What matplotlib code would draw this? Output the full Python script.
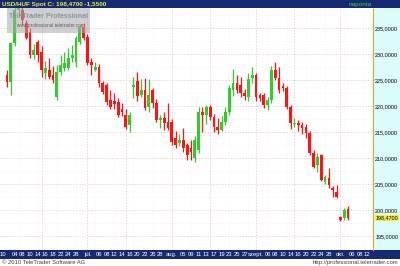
import matplotlib
matplotlib.use('Agg')
import matplotlib.pyplot as plt
import matplotlib.transforms as mtrans
from matplotlib.patches import Rectangle
import numpy as np
import pandas as pd

# ---------------- data ----------------
opens = [226.0, 224.6, 232.1, 238.5, 238.5, 236.0, 234.2, 229.8, 232.3, 230.4,
         226.3, 226.9, 226.0, 221.7, 226.5, 227.3, 227.3, 229.2, 228.5, 232.3,
         235.2, 233.3, 228.5, 226.9, 227.5, 224.4, 224.0, 221.2, 221.0, 220.8,
         219.4, 218.3, 216.3, 223.6, 224.8, 222.1, 223.1, 219.8, 223.1, 220.6,
         217.3, 217.7, 216.9, 216.9, 213.8, 212.9, 213.5, 212.5, 212.0, 210.0,
         211.5, 218.8, 218.3, 219.8, 217.9, 216.0, 215.4, 216.9, 218.8, 223.1,
         224.4, 224.0, 222.5, 221.7, 225.4, 226.0, 222.1, 222.1, 220.2, 221.2,
         226.9, 225.4, 223.9, 223.5, 219.8, 216.5, 216.7, 216.4, 216.0, 214.8,
         211.0, 208.7, 210.6, 205.4, 206.2, 204.2, 203.5, 198.7, 198.5, 200.2]
highs = [226.9, 232.3, 239.5, 240.2, 239.5, 236.5, 235.0, 232.0, 232.6, 231.5,
         228.7, 229.3, 227.7, 227.9, 229.8, 230.4, 231.2, 231.7, 233.5, 235.5,
         236.0, 233.8, 229.2, 228.5, 228.1, 224.8, 224.4, 223.1, 222.5, 221.5,
         220.6, 219.5, 218.8, 225.6, 226.5, 225.2, 225.4, 225.2, 223.5, 221.3,
         218.3, 218.8, 220.6, 217.5, 215.2, 214.6, 215.8, 212.9, 213.5, 214.2,
         219.8, 219.8, 220.2, 220.2, 218.5, 217.7, 218.0, 219.8, 224.0, 227.1,
         226.0, 225.6, 223.3, 226.3, 227.5, 226.3, 222.5, 222.5, 221.7, 227.7,
         228.5, 227.5, 224.4, 223.9, 220.2, 217.7, 217.3, 216.9, 216.5, 215.2,
         211.5, 211.0, 210.8, 206.7, 208.1, 204.6, 204.8, 198.9, 200.4, 200.8]
lows = [223.7, 222.1, 231.5, 237.5, 235.6, 232.9, 229.2, 229.0, 228.5, 225.6,
        225.2, 225.2, 224.4, 221.1, 226.0, 226.7, 226.9, 228.5, 227.5, 232.0,
        232.7, 227.9, 226.0, 226.7, 223.7, 222.3, 220.2, 219.4, 219.5, 217.9,
        218.0, 215.5, 215.0, 221.5, 221.0, 221.7, 219.2, 218.9, 219.6, 216.9,
        215.7, 215.4, 215.4, 212.5, 211.9, 212.3, 211.2, 209.6, 209.6, 209.2,
        211.0, 215.0, 216.5, 217.3, 215.0, 214.6, 215.2, 216.3, 218.3, 222.0,
        222.5, 221.7, 221.2, 221.0, 224.4, 221.0, 221.0, 219.6, 219.2, 220.6,
        225.0, 222.5, 222.9, 219.4, 215.5, 216.0, 215.2, 214.6, 213.8, 210.6,
        208.1, 207.3, 205.6, 205.0, 204.2, 202.5, 202.3, 197.9, 198.1, 198.1]
closes = [224.6, 232.1, 238.5, 239.3, 236.5, 233.1, 229.8, 230.8, 229.8, 226.9,
          227.3, 225.6, 225.0, 226.5, 227.9, 228.3, 229.2, 229.8, 233.1, 235.2,
          233.1, 228.3, 227.9, 227.5, 224.4, 222.7, 220.8, 219.8, 220.3, 218.3,
          218.8, 216.0, 218.3, 224.0, 221.9, 223.1, 219.7, 222.1, 220.6, 217.3,
          217.7, 216.7, 215.8, 213.1, 212.5, 213.5, 211.9, 210.6, 211.2, 213.5,
          218.8, 218.3, 219.8, 217.9, 216.0, 215.4, 216.9, 218.8, 223.5, 224.4,
          223.1, 222.5, 221.9, 225.2, 226.0, 221.7, 221.5, 220.2, 221.2, 226.9,
          225.4, 223.1, 223.5, 219.8, 216.7, 216.8, 216.4, 215.8, 214.8, 211.0,
          208.3, 210.2, 205.8, 206.3, 204.8, 203.8, 202.5, 198.1, 200.0, 198.47]

axis_start = '2010-06-01'
first_candle = '2010-06-02'
axis_end = '2010-10-12'
tick_dates = ['2010-06-01', '2010-06-04', '2010-06-08', '2010-06-10', '2010-06-14',
              '2010-06-16', '2010-06-18', '2010-06-22', '2010-06-24', '2010-06-28',
              '2010-07-01', '2010-07-06', '2010-07-08', '2010-07-12', '2010-07-14',
              '2010-07-16', '2010-07-20', '2010-07-22', '2010-07-26', '2010-07-28',
              '2010-08-02', '2010-08-05', '2010-08-09', '2010-08-11', '2010-08-13',
              '2010-08-17', '2010-08-19', '2010-08-23', '2010-08-25', '2010-08-27',
              '2010-09-01', '2010-09-06', '2010-09-08', '2010-09-10', '2010-09-14',
              '2010-09-16', '2010-09-20', '2010-09-22', '2010-09-24', '2010-09-28',
              '2010-10-01', '2010-10-06', '2010-10-08', '2010-10-12']
tick_texts = ['10', '04', '08', '10', '14', '16', '18', '22', '24', '28',
              'júl.', '06', '08', '12', '14', '16', '20', '22', '26', '28',
              'aug.', '05', '09', '11', '13', '17', '19', '23', '25', '27',
              'szept.', '06', '08', '10', '14', '16', '20', '22', '24', '28',
              'okt.', '06', '08', '12']
grid_dates = ['2010-06-15', '2010-07-01', '2010-07-15', '2010-08-02', '2010-08-16',
              '2010-09-01', '2010-09-15', '2010-10-01']
y_ticks = [195, 200, 205, 210, 215, 220, 225, 230, 235]
last_close = 198.47
title_main = 'USD/HUF Spot C: 198,4700 -1,5500'
title_right = 'naponta'
footer_left = '© 2010 TeleTrader Software AG'
footer_right = 'http://professional.teletrader.com'

# ---------------- layout ----------------
W, H = 400, 266
NAVY = '#152a72'
GREEN = '#2ecc2e'
RED = '#ff1414'
FONT = 'Liberation Sans'

days = pd.bdate_range(axis_start, axis_end)
cand_dates = pd.bdate_range(first_candle, periods=len(closes))
xpos = days.get_indexer(cand_dates).astype(float)

o = np.array(opens); h = np.array(highs); l = np.array(lows); c = np.array(closes)
up = c >= o

fig = plt.figure(figsize=(W / 100, H / 100), dpi=100)
fig.patch.set_facecolor('white')

def fx(px):
    return px / W

def fy(py):  # py measured from top
    return 1 - py / H

plot_l, plot_r, plot_t, plot_b = 0, 373, 8, 250
xlim = (-0.83, 96.5)
ylim = (192.3, 238.85)

# right axis background
ax_r = fig.add_axes([fx(plot_r), fy(plot_b), fx(W - plot_r), (plot_b - plot_t) / H])
ax_r.set_facecolor('#dcfcfc')
ax_r.set_xticks([]); ax_r.set_yticks([])
for s in ax_r.spines.values():
    s.set_visible(False)
ax_r.set_zorder(0)

ax = fig.add_axes([fx(plot_l), fy(plot_b), fx(plot_r - plot_l), (plot_b - plot_t) / H])
ax.set_zorder(1)
ax.set_facecolor('white')
ax.set_xlim(*xlim)
ax.set_ylim(*ylim)

# grid
for v in y_ticks:
    ax.axhline(v, color='#f0d2d2', lw=0.7, ls=(0, (1.5, 1.5)), zorder=0)
for v in np.arange(192.5, 238.5, 5):
    ax.axhline(v, color='#f4e6e6', lw=0.5, ls=(0, (1, 3)), zorder=0)
for d in grid_dates:
    ax.axvline(days.get_loc(pd.Timestamp(d)), color='#f0d2d2', lw=0.7,
               ls=(0, (1.5, 1.5)), zorder=0)
for p, d in enumerate(days):
    if d.weekday() == 0:
        ax.axvline(p, color='#f4e8e8', lw=0.5, ls=(0, (1, 3)), zorder=0)

# candles
cols = np.where(up, GREEN, RED)
ax.vlines(xpos, l, h, colors=cols, lw=0.9, zorder=2)
body_bot = np.minimum(o, c)
body_h = np.maximum(np.abs(c - o), 0.25)
ax.bar(xpos, body_h, bottom=body_bot, width=0.72, color=cols, edgecolor='none', zorder=3)

# axes styling
for name in ['left', 'top', 'bottom']:
    ax.spines[name].set_visible(False)
ax.spines['right'].set_color('#e8a030')
ax.spines['right'].set_linestyle((0, (1, 1)))
ax.spines['right'].set_linewidth(0.8)
ax.set_xticks([])
ax.yaxis.tick_right()
ax.set_yticks(y_ticks)
ax.set_yticklabels([f'{v:.4f}'.replace('.', ',') for v in y_ticks],
                   fontsize=3.9, family=FONT, color='black')
ax.tick_params(axis='y', length=1.0, width=0.5, color='#e8a030', pad=0.6)

# last price box
trans = mtrans.blended_transform_factory(ax.transAxes, ax.transData)
ax.text(1.007, last_close, f'{last_close:.4f}'.replace('.', ','), transform=trans,
        fontsize=3.9, family=FONT, color='black', va='center', ha='left',
        bbox=dict(boxstyle='square,pad=0.12', facecolor='#f2f03a', edgecolor='none'),
        clip_on=False, zorder=5)

# top bar
ax_t = fig.add_axes([0, fy(plot_t), 1, plot_t / H])
ax_t.set_facecolor(NAVY)
ax_t.set_xticks([]); ax_t.set_yticks([])
for s in ax_t.spines.values():
    s.set_visible(False)
ax_t.text(fx(2), 0.45, title_main, transform=ax_t.transAxes, fontsize=4.6,
          family=FONT, color='#e4ea2c', va='center', ha='left', weight='bold')
ax_t.text(fx(372), 0.45, title_right, transform=ax_t.transAxes, fontsize=4.6,
          family=FONT, color='#3ed23e', va='center', ha='right')

# bottom bar with date labels
px_per_unit = (plot_r - plot_l) / (xlim[1] - xlim[0])
ax_b = fig.add_axes([0, fy(259), 1, 9 / H])
ax_b.set_facecolor(NAVY)
ax_b.set_xlim(xlim[0], xlim[0] + W / px_per_unit)
ax_b.set_ylim(0, 1)
ax_b.set_xticks([]); ax_b.set_yticks([])
for s in ax_b.spines.values():
    s.set_visible(False)
for d, t in zip(tick_dates, tick_texts):
    ax_b.text(days.get_loc(pd.Timestamp(d)), 0.45, t, fontsize=4.2, family=FONT,
              color='white', ha='center', va='center')

# footer
fig.text(fx(2), fy(262.5), footer_left, fontsize=4.2, family=FONT, color='#404040',
         ha='left', va='center')
fig.text(fx(398), fy(262.5), footer_right, fontsize=4.2, family=FONT, color='#404040',
         ha='right', va='center')

# watermark
wm = Rectangle((fx(7), fy(33)), fx(83), 25 / H, transform=fig.transFigure,
               facecolor='#a8a8a8', edgecolor='none', alpha=0.55, zorder=10)
fig.patches.append(wm)
fig.text(fx(48.5), fy(17), 'TeleTrader Professional', fontsize=5.0, family=FONT,
         color='#7f8fa0', ha='center', va='center', weight='bold', alpha=0.9, zorder=11)
fig.text(fx(51), fy(26), 'www.professional.teletrader.com', fontsize=3.3, family=FONT,
         color='#5a5a78', ha='center', va='center', zorder=11)

fig.savefig('out.png', dpi=100, facecolor='white')
